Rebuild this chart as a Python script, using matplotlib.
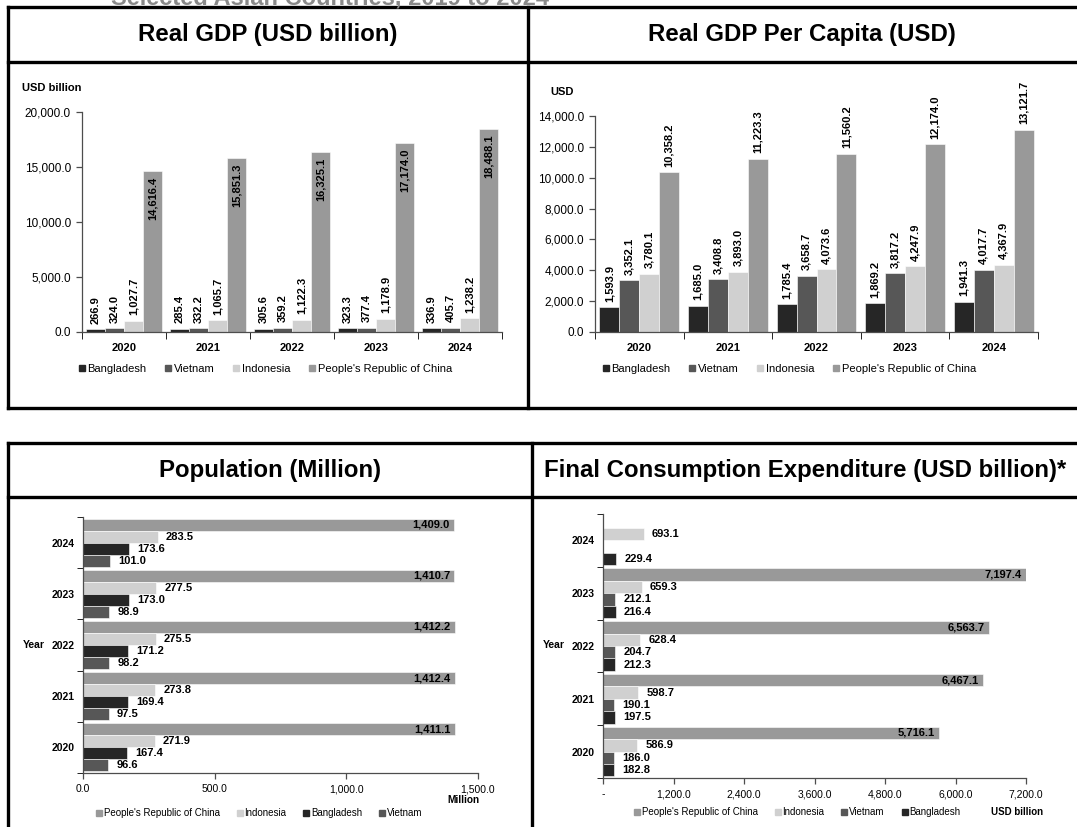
import numpy as np
import matplotlib
matplotlib.use("Agg")
import matplotlib.pyplot as plt
from matplotlib.lines import Line2D

plt.rcParams['font.family'] = ['Liberation Sans', 'DejaVu Sans']

# ---------------- data ----------------
years = ["2020", "2021", "2022", "2023", "2024"]

gdp_bangladesh = [266.9, 285.4, 305.6, 323.3, 336.9]
gdp_vietnam = [324.0, 332.2, 359.2, 377.4, 405.7]
gdp_indonesia = [1027.7, 1065.7, 1122.3, 1178.9, 1238.2]
gdp_china = [14616.4, 15851.3, 16325.1, 17174.0, 18488.1]

pc_bangladesh = [1593.9, 1685.0, 1785.4, 1869.2, 1941.3]
pc_vietnam = [3352.1, 3408.8, 3658.7, 3817.2, 4017.7]
pc_indonesia = [3780.1, 3893.0, 4073.6, 4247.9, 4367.9]
pc_china = [10358.2, 11223.3, 11560.2, 12174.0, 13121.7]

pop_china = [1411.1, 1412.4, 1412.2, 1410.7, 1409.0]
pop_indonesia = [271.9, 273.8, 275.5, 277.5, 283.5]
pop_bangladesh = [167.4, 169.4, 171.2, 173.0, 173.6]
pop_vietnam = [96.6, 97.5, 98.2, 98.9, 101.0]

fce_china = [5716.1, 6467.1, 6563.7, 7197.4, np.nan]
fce_indonesia = [586.9, 598.7, 628.4, 659.3, 693.1]
fce_vietnam = [186.0, 190.1, 204.7, 212.1, np.nan]
fce_bangladesh = [182.8, 197.5, 212.3, 216.4, 229.4]

# ---------------- styling ----------------
C_BGD = "#262626"
C_VNM = "#575757"
C_IDN = "#d0d0d0"
C_CHN = "#999999"
AXIS_C = "#4d4d4d"

W, H = 1077, 827
fig = plt.figure(figsize=(W / 100, H / 100), dpi=100)


def fx(px):
    return px / W


def fy(py):
    return 1 - py / H


def add_axes(l, t, r, b):
    return fig.add_axes([fx(l), fy(b), fx(r) - fx(l), fy(t) - fy(b)])


def fig_line(x0, y0, x1, y1, lw=2.4):
    fig.add_artist(Line2D([fx(x0), fx(x1)], [fy(y0), fy(y1)], color="black",
                          lw=lw, transform=fig.transFigure, solid_capstyle="projecting"))


fmt = lambda v: f"{v:,.1f}"

# ---------------- frames and headings ----------------
fig.text(fx(330), fy(4), "Selected Asian Countries, 2019 to 2024", ha="center",
         va="baseline", fontsize=17, fontweight="bold", color="#8a8a8a")

for y in (7, 62, 408):
    fig_line(8, y, 1080, y)
for x in (8, 528):
    fig_line(x, 7, x, 408)
for y in (443, 497):
    fig_line(8, y, 1080, y)
for x in (8, 532):
    fig_line(x, 443, x, 830)

head_kw = dict(ha="center", va="center", fontsize=17.3, fontweight="bold")
fig.text(fx(268), fy(35), "Real GDP (USD billion)", **head_kw)
fig.text(fx(802), fy(35), "Real GDP Per Capita (USD)", **head_kw)
fig.text(fx(270), fy(470), "Population (Million)", **head_kw)
fig.text(fx(805), fy(470), "Final Consumption Expenditure (USD billion)*", **head_kw)


def style_axes(ax):
    for s in ("top", "right"):
        ax.spines[s].set_visible(False)
    for s in ("left", "bottom"):
        ax.spines[s].set_color(AXIS_C)
        ax.spines[s].set_linewidth(0.9)
    ax.tick_params(colors=AXIS_C, labelcolor="black", width=0.9)


def column_chart(ax, series, ymax, ystep, inside_last):
    x = np.arange(len(years))
    w = 0.225
    offsets = (-1.5, -0.5, 0.5, 1.5)
    colors = (C_BGD, C_VNM, C_IDN, C_CHN)
    for k, (vals, off, c) in enumerate(zip(series, offsets, colors)):
        xs = x + off * w
        ax.bar(xs, vals, width=w, color=c, edgecolor="white", linewidth=0.4)
        for xi, v in zip(xs, vals):
            if inside_last and k == 3:
                ax.annotate(fmt(v), (xi, v), xytext=(0, -4), textcoords="offset points",
                            rotation=90, ha="center", va="top", fontsize=8,
                            fontweight="bold")
            else:
                ax.annotate(fmt(v), (xi, v), xytext=(0, 4), textcoords="offset points",
                            rotation=90, ha="center", va="bottom", fontsize=8,
                            fontweight="bold", annotation_clip=False)
    ax.set_xlim(-0.5, len(years) - 0.5)
    ax.set_ylim(0, ymax)
    ax.set_yticks(np.arange(0, ymax + 1, ystep))
    ax.set_yticklabels([fmt(v) for v in np.arange(0, ymax + 1, ystep)], fontsize=8.5)
    ax.set_xticks(x)
    ax.set_xticklabels(years, fontsize=8, fontweight="bold")
    ax.set_xticks(np.arange(-0.5, len(years)), minor=True)
    ax.tick_params(axis="x", which="major", length=0, pad=8)
    ax.tick_params(axis="x", which="minor", length=5, direction="out")
    ax.tick_params(axis="y", length=4, direction="out", pad=4)
    style_axes(ax)


def legend_handles(colors, labels):
    return [Line2D([], [], marker="s", linestyle="none", markersize=5,
                   markerfacecolor=c, markeredgecolor=c, label=l)
            for c, l in zip(colors, labels)]


# ---------------- Real GDP ----------------
ax1 = add_axes(82, 112, 502, 332)
column_chart(ax1, [gdp_bangladesh, gdp_vietnam, gdp_indonesia, gdp_china], 20000, 5000, True)
fig.text(fx(22), fy(88), "USD billion", fontsize=8, fontweight="bold", va="center")
fig.legend(handles=legend_handles((C_BGD, C_VNM, C_IDN, C_CHN),
                                  ("Bangladesh", "Vietnam", "Indonesia",
                                   "People's Republic of China")),
           loc="center", bbox_to_anchor=(fx(265), fy(369)), ncol=4, frameon=False,
           fontsize=8, handlelength=0.7, handletextpad=0.15, columnspacing=1.6,
           borderpad=0)

# ---------------- Real GDP per capita ----------------
ax2 = add_axes(595, 116, 1038, 332)
column_chart(ax2, [pc_bangladesh, pc_vietnam, pc_indonesia, pc_china], 14000, 2000, False)
fig.text(fx(550), fy(92), "USD", fontsize=8, fontweight="bold", va="center")
fig.legend(handles=legend_handles((C_BGD, C_VNM, C_IDN, C_CHN),
                                  ("Bangladesh", "Vietnam", "Indonesia",
                                   "People's Republic of China")),
           loc="center", bbox_to_anchor=(fx(789), fy(369)), ncol=4, frameon=False,
           fontsize=8, handlelength=0.7, handletextpad=0.15, columnspacing=1.6,
           borderpad=0)


def bar_chart(ax, series, colors, xmax, xstep, zero_dash):
    y = np.arange(len(years))
    h = 0.235
    offsets = (1.5, 0.5, -0.5, -1.5)
    for k, (vals, off, c) in enumerate(zip(series, offsets, colors)):
        ys = y + off * h
        ax.barh(ys, vals, height=h, color=c, edgecolor="white", linewidth=0.4)
        for yi, v in zip(ys, vals):
            if np.isnan(v):
                continue
            if k == 0:
                ax.annotate(fmt(v), (v, yi), xytext=(-3, 0), textcoords="offset points",
                            ha="right", va="center", fontsize=8, fontweight="bold")
            else:
                ax.annotate(fmt(v), (v, yi), xytext=(6, 0), textcoords="offset points",
                            ha="left", va="center", fontsize=8, fontweight="bold")
    ax.set_ylim(-0.5, len(years) - 0.5)
    ax.set_xlim(0, xmax)
    ticks = np.arange(0, xmax + 1, xstep)
    ax.set_xticks(ticks)
    labels = [fmt(v) for v in ticks]
    if zero_dash:
        labels[0] = "-"
    ax.set_xticklabels(labels, fontsize=7.5)
    ax.set_yticks(y)
    ax.set_yticklabels(years, fontsize=7.5, fontweight="bold")
    ax.set_yticks(np.arange(-0.5, len(years)), minor=True)
    ax.tick_params(axis="y", which="major", length=0, pad=6)
    ax.tick_params(axis="y", which="minor", length=4, direction="out")
    ax.tick_params(axis="x", length=4, direction="out", pad=4)
    style_axes(ax)


legend_kw_small = dict(loc="center", ncol=4, frameon=False, fontsize=7,
                       handlelength=0.7, handletextpad=0.15, columnspacing=1.7,
                       borderpad=0)

# ---------------- Population ----------------
ax3 = add_axes(83, 517, 478, 773)
bar_chart(ax3, [pop_china, pop_indonesia, pop_bangladesh, pop_vietnam],
          (C_CHN, C_IDN, C_BGD, C_VNM), 1500, 500, False)
fig.text(fx(23), fy(645), "Year", fontsize=7.5, fontweight="bold", va="center")
fig.text(fx(480), fy(800), "Million", fontsize=7.3, fontweight="bold", va="center",
         ha="right")
fig.legend(handles=legend_handles((C_CHN, C_IDN, C_BGD, C_VNM),
                                  ("People's Republic of China", "Indonesia",
                                   "Bangladesh", "Vietnam")),
           bbox_to_anchor=(fx(259), fy(813)), **legend_kw_small)

# ---------------- Final consumption expenditure ----------------
ax4 = add_axes(603, 514, 1026, 778)
bar_chart(ax4, [fce_china, fce_indonesia, fce_vietnam, fce_bangladesh],
          (C_CHN, C_IDN, C_VNM, C_BGD), 7200, 1200, True)
fig.text(fx(543), fy(645), "Year", fontsize=7.5, fontweight="bold", va="center")
fig.text(fx(1043), fy(812), "USD billion", fontsize=7, fontweight="bold", va="center",
         ha="right")
fig.legend(handles=legend_handles((C_CHN, C_IDN, C_VNM, C_BGD),
                                  ("People's Republic of China", "Indonesia",
                                   "Vietnam", "Bangladesh")),
           bbox_to_anchor=(fx(797), fy(812)), **legend_kw_small)

fig.savefig("out.png", dpi=100, facecolor="white")
